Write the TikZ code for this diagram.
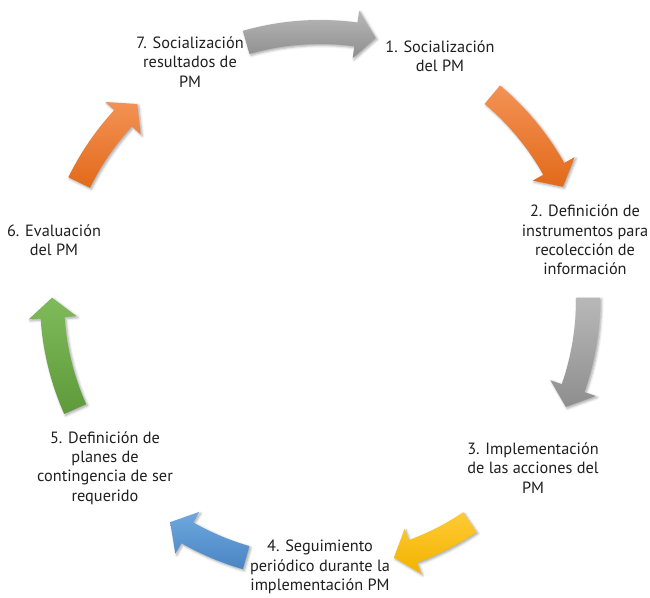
\documentclass[tikz,border=0pt]{standalone}
\usepackage{fontspec}
\setmainfont{PT Sans}
\usetikzlibrary{shadows.blur}
\definecolor{grayT}{HTML}{B8B8B8}
\definecolor{grayB}{HTML}{8E8E8E}
\definecolor{orgT}{HTML}{F39255}
\definecolor{orgB}{HTML}{E26A1A}
\definecolor{yelT}{HTML}{FFCA35}
\definecolor{yelB}{HTML}{F2B400}
\definecolor{bluT}{HTML}{6EA8DE}
\definecolor{bluB}{HTML}{4A85C4}
\definecolor{grnT}{HTML}{80BB5B}
\definecolor{grnB}{HTML}{5E9A3A}
\tikzset{
  lbl/.style={align=center, font=\fontsize{16.3}{19.3}\selectfont, text=black!88, inner sep=0pt},
  arrowshadow/.style={blur shadow={shadow xshift=1.5pt, shadow yshift=-1.5pt, shadow blur radius=2.5pt, shadow opacity=35}}
}
\newcommand\cycarrow[4]{%
  \pgfmathsetmacro\hb{#2+4.3}%
  \path[arrowshadow, top color=#3, bottom color=#4]
    (#1:280pt) arc[start angle=#1, end angle=\hb, radius=280pt]
    -- (\hb:292pt) -- (#2:268pt) -- (\hb:244pt) -- (\hb:256pt)
    arc[start angle=\hb, end angle=#1, radius=256pt] -- cycle;}
\begin{document}
\begin{tikzpicture}[x=1pt,y=1pt]
\useasboundingbox (0,0) rectangle (650,597);
\begin{scope}[shift={(320,297)}]
  \cycarrow{106}{78}{grayT}{grayB}
  \cycarrow{50}{25}{orgT}{orgB}
  \cycarrow{0.5}{-23.5}{grayT}{grayB}
  \cycarrow{-56}{-74}{yelT}{yelB}
  \cycarrow{-106}{-124}{bluT}{bluB}
  \cycarrow{204}{179.5}{grnT}{grnB}
  \cycarrow{154}{133}{orgT}{orgB}
\end{scope}
\node[lbl] (n1) at (440,541) {1. Socialización\\del PM};
\node[lbl] (n2) at (585,357) {2. Definición de\\instrumentos para\\recolección de\\información};
\node[lbl] (n3) at (533,129) {3. Implementación\\de las acciones del\\PM};
\node[lbl] (n4) at (320,30) {4. Seguimiento\\periódico durante la\\implementación PM};
\node[lbl] (n5) at (105,129) {5. Definición de\\planes de\\contingencia de ser\\requerido};
\node[lbl] (n6) at (54,357) {6. Evaluación\\del PM};
\node[lbl] (n7) at (190,535) {7. Socialización\\resultados de\\PM};
\end{tikzpicture}
\end{document}
